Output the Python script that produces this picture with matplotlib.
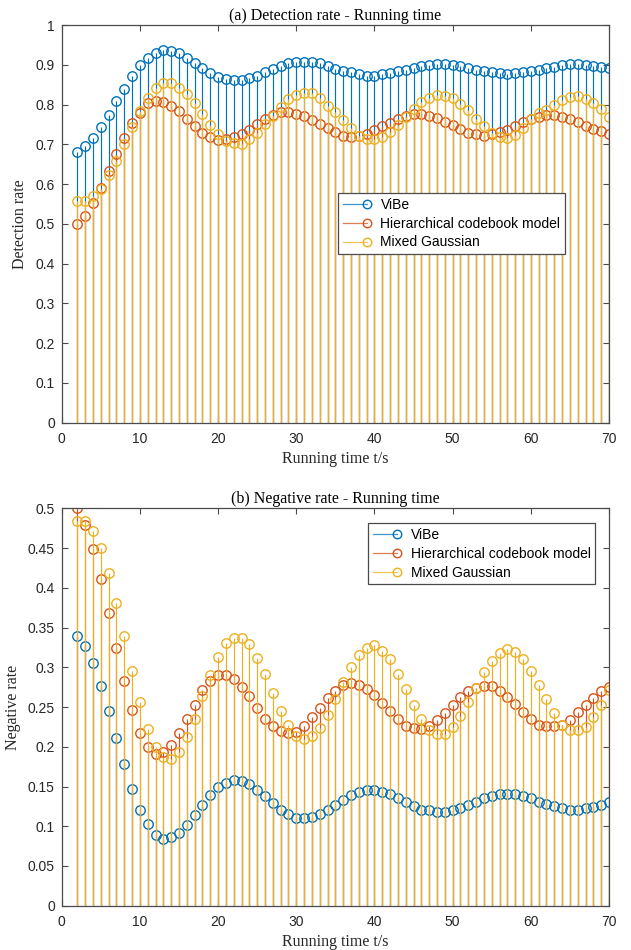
import numpy as np
import matplotlib
matplotlib.use("Agg")
import matplotlib.pyplot as plt
from matplotlib.lines import Line2D
from matplotlib.legend_handler import HandlerBase

# Running time axis (seconds)
t = list(range(2, 71))

# (a) Detection rate
det_vibe = [0.680, 0.695, 0.715, 0.743, 0.775, 0.810, 0.840, 0.872, 0.899, 0.917,
            0.930, 0.937, 0.935, 0.929, 0.917, 0.905, 0.892, 0.879, 0.869, 0.864,
            0.861, 0.861, 0.866, 0.873, 0.882, 0.890, 0.898, 0.904, 0.907, 0.908,
            0.907, 0.904, 0.898, 0.890, 0.885, 0.881, 0.876, 0.873, 0.873, 0.876,
            0.880, 0.884, 0.888, 0.893, 0.896, 0.899, 0.902, 0.902, 0.900, 0.897,
            0.892, 0.888, 0.884, 0.881, 0.879, 0.878, 0.879, 0.882, 0.884, 0.888,
            0.891, 0.895, 0.899, 0.901, 0.901, 0.899, 0.896, 0.894, 0.891]
det_hcb = [0.500, 0.520, 0.552, 0.590, 0.634, 0.676, 0.716, 0.755, 0.780, 0.803,
           0.808, 0.806, 0.796, 0.785, 0.763, 0.745, 0.728, 0.718, 0.710, 0.714,
           0.718, 0.725, 0.736, 0.751, 0.765, 0.775, 0.781, 0.781, 0.777, 0.771,
           0.761, 0.750, 0.740, 0.731, 0.722, 0.719, 0.722, 0.725, 0.736, 0.746,
           0.755, 0.765, 0.772, 0.777, 0.777, 0.772, 0.766, 0.757, 0.748, 0.738,
           0.729, 0.725, 0.722, 0.727, 0.732, 0.737, 0.746, 0.756, 0.763, 0.770,
           0.774, 0.774, 0.770, 0.764, 0.757, 0.746, 0.738, 0.733, 0.725]
det_mog = [0.558, 0.558, 0.569, 0.589, 0.623, 0.659, 0.701, 0.743, 0.783, 0.816,
           0.841, 0.854, 0.854, 0.843, 0.827, 0.803, 0.776, 0.748, 0.726, 0.709,
           0.703, 0.701, 0.714, 0.728, 0.750, 0.771, 0.795, 0.813, 0.824, 0.830,
           0.829, 0.816, 0.797, 0.781, 0.761, 0.740, 0.721, 0.713, 0.713, 0.719,
           0.732, 0.749, 0.770, 0.788, 0.807, 0.816, 0.824, 0.822, 0.816, 0.802,
           0.786, 0.764, 0.745, 0.729, 0.719, 0.715, 0.724, 0.742, 0.763, 0.778,
           0.786, 0.799, 0.812, 0.818, 0.822, 0.813, 0.803, 0.788, 0.768]

# (b) Negative rate
neg_vibe = [0.340, 0.327, 0.306, 0.276, 0.245, 0.211, 0.178, 0.147, 0.121, 0.103,
            0.089, 0.084, 0.086, 0.092, 0.101, 0.114, 0.127, 0.139, 0.149, 0.155,
            0.158, 0.157, 0.153, 0.146, 0.138, 0.129, 0.121, 0.116, 0.111, 0.111,
            0.112, 0.116, 0.121, 0.127, 0.133, 0.139, 0.143, 0.145, 0.146, 0.143,
            0.140, 0.135, 0.131, 0.125, 0.121, 0.120, 0.118, 0.118, 0.120, 0.123,
            0.127, 0.131, 0.135, 0.138, 0.140, 0.140, 0.140, 0.138, 0.135, 0.131,
            0.128, 0.125, 0.123, 0.121, 0.121, 0.123, 0.124, 0.127, 0.130]
neg_hcb = [0.500, 0.479, 0.449, 0.411, 0.368, 0.3245, 0.283, 0.246, 0.217, 0.200,
           0.191, 0.193, 0.202, 0.217, 0.2355, 0.253, 0.271, 0.2825, 0.290, 0.290,
           0.2855, 0.275, 0.264, 0.249, 0.2355, 0.226, 0.2195, 0.2175, 0.219, 0.2267,
           0.237, 0.249, 0.261, 0.270, 0.2775, 0.280, 0.278, 0.273, 0.265, 0.255,
           0.2455, 0.235, 0.2267, 0.224, 0.2225, 0.2267, 0.2335, 0.242, 0.252, 0.2625,
           0.270, 0.274, 0.277, 0.276, 0.270, 0.263, 0.254, 0.2435, 0.2355, 0.228,
           0.226, 0.2267, 0.228, 0.234, 0.2435, 0.252, 0.2615, 0.270, 0.275]
neg_mog = [0.484, 0.484, 0.472, 0.450, 0.419, 0.381, 0.339, 0.295, 0.256, 0.2225,
           0.200, 0.187, 0.185, 0.1935, 0.2125, 0.2355, 0.2635, 0.290, 0.313, 0.330,
           0.337, 0.337, 0.329, 0.312, 0.291, 0.268, 0.245, 0.228, 0.213, 0.210,
           0.213, 0.223, 0.2405, 0.2595, 0.281, 0.301, 0.316, 0.3245, 0.3275, 0.321,
           0.310, 0.292, 0.273, 0.253, 0.2355, 0.2217, 0.2166, 0.2166, 0.225, 0.2385,
           0.256, 0.274, 0.294, 0.3077, 0.318, 0.323, 0.319, 0.310, 0.295, 0.278,
           0.2595, 0.242, 0.228, 0.2217, 0.221, 0.225, 0.237, 0.252, 0.271]

series_names = ["ViBe", "Hierarchical codebook model", "Mixed Gaussian"]
colors = ["#0072BD", "#D95319", "#EDB120"]

SERIF = ["Liberation Serif", "DejaVu Serif"]
SANS = ["Liberation Sans", "DejaVu Sans"]
AX_COLOR = "#4a4a4a"
TXT_COLOR = "#262626"
MS = 6.8


class StemKey(HandlerBase):
    """Legend key: a short line with an open circle at its right end."""
    def create_artists(self, legend, orig_handle, xdescent, ydescent,
                       width, height, fontsize, trans):
        c = orig_handle.get_color()
        y = height / 2.0 - ydescent
        x0, x1 = -xdescent, width - xdescent
        ms = orig_handle.get_markersize()
        xm = x1 - ms * 0.45
        line = Line2D([x0, xm], [y, y], color=c, lw=0.9, alpha=0.75)
        mk = Line2D([xm], [y], marker="o", color=c, ls="none",
                    markersize=ms * 0.9, markerfacecolor="none", markeredgewidth=1.0)
        line.set_transform(trans)
        mk.set_transform(trans)
        return [line, mk]


def draw_panel(ax, data, title, ylabel, yticks, ylim, legend_anchor):
    for i, (vals, col) in enumerate(zip(data, colors)):
        markerline, stemlines, baseline = ax.stem(t, vals, basefmt=" ")
        stemlines.set_color(col)
        stemlines.set_linewidth(0.85)
        stemlines.set_zorder(2 + i)
        markerline.set_color(col)
        markerline.set_marker("o")
        markerline.set_markerfacecolor("none")
        markerline.set_markeredgewidth(1.0)
        markerline.set_markersize(MS)
        markerline.set_zorder(2 + i)
    ax.set_xlim(0, 70)
    ax.set_ylim(*ylim)
    ax.set_xticks(range(0, 71, 10))
    ax.set_yticks(yticks)
    ax.set_yticklabels(["%g" % v for v in yticks])
    ax.tick_params(direction="in", length=4, width=0.8, color=AX_COLOR,
                   top=True, right=True, labelsize=10, labelcolor=TXT_COLOR)
    ax.tick_params(axis="x", pad=7)
    ax.tick_params(axis="y", pad=5)
    for lab in ax.get_xticklabels() + ax.get_yticklabels():
        lab.set_family(SANS)
    for sp in ax.spines.values():
        sp.set_color(AX_COLOR)
        sp.set_linewidth(0.9)
        sp.set_zorder(10)
    ax.set_title(title, family=SERIF, fontsize=11.5, color="black", pad=4)
    ax.set_xlabel("Running time t/s", family=SERIF, fontsize=11.5, color=TXT_COLOR, labelpad=3)
    ax.set_ylabel(ylabel, family=SERIF, fontsize=11.5, color=TXT_COLOR, labelpad=5)

    handles = [Line2D([], [], color=c, marker="o", markersize=MS) for c in colors]
    leg = ax.legend(handles, series_names, loc="upper left", bbox_to_anchor=legend_anchor,
                    handler_map={Line2D: StemKey()}, prop={"family": SANS, "size": 10},
                    fancybox=False, framealpha=1, edgecolor=AX_COLOR,
                    borderpad=0.35, labelspacing=0.35, handlelength=2.0,
                    handletextpad=0.7, borderaxespad=0.0)
    leg.get_frame().set_linewidth(0.9)
    leg.set_zorder(20)


fig = plt.figure(figsize=(6.31, 9.5), dpi=100)
ax1 = fig.add_axes([0.0978, 0.5550, 0.8674, 0.4186])
ax2 = fig.add_axes([0.0978, 0.0466, 0.8674, 0.4183])

draw_panel(ax1, [det_vibe, det_hcb, det_mog], "(a) Detection rate - Running time",
           "Detection rate", [round(0.1 * k, 1) for k in range(11)], (0, 1), (0.505, 0.578))
draw_panel(ax2, [neg_vibe, neg_hcb, neg_mog], "(b) Negative rate - Running time",
           "Negative rate", [round(0.05 * k, 2) for k in range(11)], (0, 0.5), (0.56, 0.963))

fig.savefig("out.png", dpi=100, facecolor="white")
